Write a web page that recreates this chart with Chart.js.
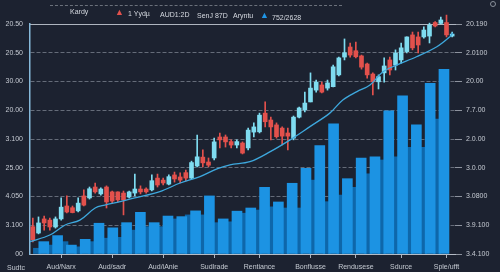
<!DOCTYPE html>
<html>
<head>
<meta charset="utf-8">
<script src="https://cdn.jsdelivr.net/npm/chart.js@4.4.0/dist/chart.umd.min.js"></script>
<style>
  html, body { margin: 0; padding: 0; background: #1c2230; }
  #wrap { position: relative; width: 500px; height: 272px; overflow: hidden; font-family: "Liberation Sans", Arial, sans-serif; }
  canvas { position: absolute; left: 0; top: 0; }
  .lg { position: absolute; color: #d6dae1; font-size: 7px; line-height: 9px; white-space: nowrap; }
  .tri-r { color: #e2514c; font-size: 9px; }
  .tri-b { color: #1f95e6; font-size: 9px; }
  .dash { position: absolute; left: 50px; top: 5px; width: 292px; border-top: 1px dashed #6b717b; }
  .corner { position: absolute; left: 7px; top: 263px; color: #c5cad2; font-size: 7px; line-height: 9px; }
  .dot { position: absolute; left: 490px; top: 1px; width: 4px; height: 4px; border: 1px solid #8a909a; border-radius: 50%; }
</style>
</head>
<body>
<div id="wrap">
  <canvas id="chart" width="500" height="272"></canvas>
  <div class="dash"></div>
  <div class="dot"></div>
  <span class="lg" style="left:70px;top:7px">Kardy</span>
  <span class="lg tri-r" style="left:115px;top:8px">▲</span>
  <span class="lg" style="left:128px;top:9px">1 Yydµ</span>
  <span class="lg" style="left:160px;top:10px">AUD1:2D</span>
  <span class="lg" style="left:197px;top:11px">SenJ 87D</span>
  <span class="lg" style="left:233px;top:11px">Aryntu</span>
  <span class="lg tri-b" style="left:260px;top:11px">▲</span>
  <span class="lg" style="left:272px;top:13px">752/2628</span>
  <span class="corner">Sudtc</span>
</div>
<script>
// category labels and the candle index each one sits under
const xLabels = ['Aud/Narx', 'Aud/sadr', 'Aud/iAnie', 'Sudlrade', 'Rentiance', 'Bonflusse', 'Rendusese', 'Sdurce', 'Sple/ufft'];
const labelSlots = [5, 14, 23, 32, 40, 49, 57, 65, 73];

// tick texts, bottom to top
const leftTicks = ['00', '3.100', '4.050', '25.00', '3.100', '20.00', '30.00', '20.50', '20.50'];
const rightTicks = ['3.4.100', '3.9.100', '3.0800', '3.0.00', '2.0.00', '7.7.00', '20.00', '2.0100', '20.190'];

// candles
const opens = [9.5, 7.3, 12.2, 11.8, 9.4, 12.2, 16.7, 16.1, 15.0, 20.2,
  19.5, 23.3, 20.9, 23.3, 21.6, 21.6, 21.2, 19.8, 21.2, 22.6,
  22.6, 22.3, 26.4, 25.7, 24.3, 27.5, 26.8, 28.3, 26.4, 30.6,
  33.7, 32.0, 33.4, 40.7, 40.7, 39.1, 37.9, 38.6, 36.9, 42.4,
  42.5, 49.0, 46.6, 44.9, 43.8, 42.1, 40.3, 47.6, 50.1, 52.9,
  57.0, 58.8, 57.7, 58.2, 62.3, 68.5, 72.0, 70.7, 68.9, 66.1,
  62.6, 59.9, 63.0, 67.5, 65.7, 67.5, 70.4, 76.2, 75.5, 75.5,
  75.8, 80.5, 80.2, 80.5, 75.8];
const closes = [4.9, 10.8, 10.8, 9.4, 12.2, 16.3, 14.6, 14.4, 17.7, 17.0,
  22.7, 21.6, 22.6, 18.1, 18.4, 18.8, 18.8, 21.6, 22.6, 21.6,
  21.6, 25.5, 24.0, 24.7, 26.9, 26.1, 25.7, 26.4, 31.8, 33.8,
  31.7, 30.9, 39.0, 39.7, 39.0, 37.9, 39.1, 35.1, 43.1, 44.2,
  48.3, 46.0, 44.2, 40.8, 41.0, 41.0, 47.6, 50.8, 52.5, 57.7,
  59.8, 56.3, 59.5, 65.1, 68.2, 70.0, 69.2, 68.6, 65.0, 62.3,
  59.9, 61.7, 65.4, 64.0, 69.9, 71.7, 75.5, 71.7, 72.7, 77.9,
  79.6, 79.3, 81.4, 76.2, 76.5];
const highs = [12.5, 12.9, 13.2, 12.5, 12.9, 19.5, 20.2, 16.7, 19.5, 22.3,
  23.3, 24.7, 23.0, 23.7, 21.9, 21.6, 21.9, 21.9, 27.8, 23.7,
  23.0, 27.5, 27.8, 26.4, 27.5, 28.5, 28.2, 29.2, 32.3, 41.4,
  36.2, 33.4, 40.3, 42.1, 41.4, 39.7, 39.7, 39.0, 43.8, 45.6,
  49.0, 52.9, 47.6, 45.6, 44.2, 43.8, 48.0, 51.1, 56.3, 63.0,
  60.5, 59.8, 60.5, 65.7, 68.5, 74.8, 73.4, 73.7, 69.2, 66.4,
  63.0, 62.3, 68.2, 68.5, 71.0, 73.4, 75.5, 77.2, 77.2, 79.0,
  80.3, 80.8, 82.4, 83.1, 77.2];
const lows = [4.2, 7.0, 8.3, 8.3, 9.0, 11.8, 14.3, 14.3, 14.6, 16.7,
  19.1, 21.2, 20.5, 16.0, 17.7, 18.1, 13.6, 19.5, 20.2, 20.9,
  21.2, 21.9, 23.3, 24.0, 24.0, 25.0, 24.7, 25.4, 26.1, 30.3,
  30.3, 30.3, 32.7, 36.9, 37.2, 36.9, 36.9, 34.8, 36.2, 40.7,
  42.1, 44.2, 39.7, 40.3, 37.9, 36.2, 39.7, 47.3, 49.4, 52.9,
  56.3, 56.0, 57.0, 58.1, 61.9, 67.5, 68.5, 68.2, 64.3, 61.2,
  55.3, 57.4, 59.8, 62.3, 64.0, 66.4, 69.9, 71.0, 69.9, 75.1,
  73.4, 79.0, 80.0, 75.5, 75.5];

// moving average line, read at candle positions
const maIdx = [-0.5, 3.0, 5.7, 8.3, 11.0, 12.7, 15.4, 18.0, 22.4, 26.0, 29.5, 32.5, 34.8, 38.3,
  41.9, 45.4, 48.9, 52.4, 54.7, 57.2, 59.5, 61.8, 64.2, 67.7, 71.3, 73.6, 74.1];
const maVal = [4.3, 6.6, 10.1, 11.8, 16.0, 17.0, 18.2, 19.5, 21.7, 24.7, 26.9, 29.6, 31.0, 32.1,
  35.6, 39.7, 44.3, 49.0, 53.6, 56.5, 58.8, 63.4, 65.7, 68.6, 72.1, 75.6, 76.9];

// volume bars (bright front bars, darker ones in the gaps)
const volBright = [4.3, 6.4, 3.1, 5.1, 10.7, 9.1, 10.9, 14.5, 10.9, 13.2,
  13.0, 15.0, 20.2, 12.2, 14.9, 16.0, 23.2, 18.1, 24.6, 29.8,
  37.7, 45.3, 26.2, 33.4, 33.8, 49.8, 55.0, 44.9, 59.4, 64.2];
const volDark = [2.0, 3.1, 4.3, 2.5, 4.3, 5.5, 5.8, 8.3, 9.5, 9.5,
  12.2, 13.6, 13.6, 10.9, 11.2, 14.2, 15.3, 16.4, 16.0, 16.0,
  25.7, 18.2, 20.5, 23.2, 27.9, 32.7, 33.8, 37.1, 37.1, 46.9];

const UP = '#7fdcf0', DOWN = '#e2514c';
const txt = '#c5cad2';

const candleCats = opens.map((o, i) => {
  const k = labelSlots.indexOf(i);
  return k >= 0 ? xLabels[k] : '';
});
const bodies = opens.map((o, i) => [Math.min(o, closes[i]), Math.max(o, closes[i])]);
const wicks = lows.map((l, i) => [l, highs[i]]);
const candleCols = opens.map((o, i) => closes[i] >= o ? UP : DOWN);

Chart.defaults.font.family = '"Liberation Sans", Arial, sans-serif';
Chart.defaults.font.size = 7;

new Chart(document.getElementById('chart'), {
  type: 'bar',
  data: {
    labels: candleCats,
    datasets: [
      {
        type: 'line',
        data: maIdx.map((x, i) => ({ x: x, y: maVal[i] })),
        xAxisID: 'xl', yAxisID: 'y',
        borderColor: '#3ea8dd', borderWidth: 1.3,
        pointRadius: 0, tension: 0.35, order: 0, clip: false
      },
      {
        data: bodies, xAxisID: 'x', yAxisID: 'y',
        backgroundColor: candleCols, barThickness: 4, minBarLength: 1,
        grouped: false, order: 1, clip: false
      },
      {
        data: wicks, xAxisID: 'x', yAxisID: 'y',
        backgroundColor: candleCols, barThickness: 1,
        grouped: false, order: 2, clip: false
      },
      {
        data: volBright.map((v, j) => ({ x: j, y: v })),
        xAxisID: 'xb', yAxisID: 'y',
        backgroundColor: '#1c93e3', barThickness: 10,
        grouped: false, order: 3
      },
      {
        data: volDark.map((v, j) => ({ x: j - 0.5, y: v })),
        xAxisID: 'xb', yAxisID: 'y',
        backgroundColor: '#0e67aa', barThickness: 7,
        grouped: false, order: 4
      }
    ]
  },
  options: {
    responsive: false,
    animation: false,
    devicePixelRatio: 1,
    layout: { padding: { top: 24 } },
    plugins: { legend: { display: false }, tooltip: { enabled: false } },
    scales: {
      x: {
        type: 'category',
        offset: true,
        afterBuildTicks: s => { s.ticks = s.ticks.filter(t => candleCats[t.value] !== ''); },
        afterFit: s => { s.height = 18; },
        ticks: { color: txt, autoSkip: false, maxRotation: 0, padding: 5 },
        grid: { drawOnChartArea: false, drawTicks: true, tickLength: 4, tickColor: '#aab2bd', offset: false },
        border: { color: '#b5bcc6', width: 1 }
      },
      xt: {
        type: 'linear', position: 'top', min: 0, max: 1,
        afterFit: s => { s.height = 0; },
        ticks: { display: false },
        grid: { display: false },
        border: { color: '#aeb5bf', width: 1 }
      },
      xl: { type: 'linear', display: false, offset: false, min: -0.5, max: 74.5 },
      xb: { type: 'linear', display: false, offset: false, min: -1, max: 29.8 },
      y: {
        position: 'left', min: 0, max: 80,
        afterFit: s => { s.width = 30; },
        ticks: { stepSize: 10, color: txt, padding: 7, callback: v => leftTicks[v / 10] },
        grid: {
          drawTicks: false,
          color: c => (c.tick && (c.tick.value === 0 || c.tick.value === 80)) ? 'rgba(0,0,0,0)' : 'rgba(150,158,170,0.6)'
        },
        border: { display: true, color: '#86b9da', width: 1.5, dash: [4, 2] }
      },
      y2: {
        position: 'right', min: 0, max: 80,
        afterFit: s => { s.width = 45; },
        ticks: { stepSize: 10, color: txt, padding: 4, callback: v => rightTicks[v / 10] },
        grid: { drawOnChartArea: false, drawTicks: true, tickLength: 7, tickColor: 'rgba(170,176,186,0.8)' },
        border: { display: false }
      }
    }
  }
});
</script>
</body>
</html>
